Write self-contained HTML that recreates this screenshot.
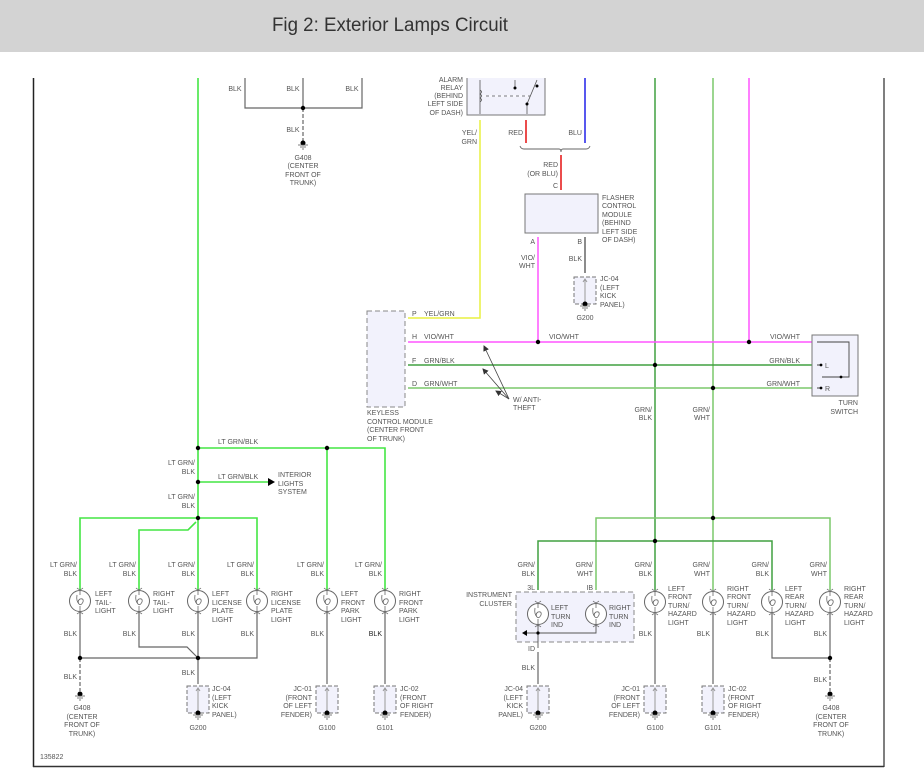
<!DOCTYPE html>
<html><head><meta charset="utf-8"><style>
html,body{margin:0;padding:0;background:#fff;width:924px;height:779px;overflow:hidden}
svg{display:block}
text{font-family:"Liberation Sans",sans-serif;font-size:7px;fill:#555}
.r{text-anchor:end}.m{text-anchor:middle}
</style></head><body>
<svg width="924" height="779" viewBox="0 0 924 779" xmlns="http://www.w3.org/2000/svg">
<defs>
<marker id="ah" markerWidth="6" markerHeight="6" refX="5" refY="3" orient="auto" markerUnits="userSpaceOnUse">
<path d="M0,0 L6,3 L0,6 Z" fill="#333"/>
</marker>
<g id="lamp">
<circle r="10.5" fill="#fff" stroke="#666" stroke-width="1"/>
<path d="M0,-10 L0,-6 M-3,-6 Q-4,0 -1,3 Q1,5 3,1 Q4,-3 0,-2 Q-3,0 -1,3 M0,5 L0,10" fill="none" stroke="#666" stroke-width="0.8"/>
<path d="M-3,-13 Q0,-10 3,-13 M-3,13 Q0,10 3,13" fill="none" stroke="#666" stroke-width="0.8"/>
</g>
<g id="gnd">
<circle r="2.5" fill="#000"/>
<path d="M-5,2 H5 M-3,4 H3 M-1,6 H1" stroke="#555" stroke-width="0.8"/>
</g>
<g id="jc">
<rect x="-11" y="0" width="22" height="27" fill="#f2f2fc" stroke="#777" stroke-dasharray="4,2"/>
<path d="M0,27 V2 M-2,5 L0,2 L2,5" fill="none" stroke="#999" stroke-width="1"/>
<use href="#gnd" y="27"/>
</g>
</defs>
<rect x="0" y="0" width="924" height="52" fill="#d3d3d3"/>
<text x="272" y="31" style="font-size:19px;fill:#333" textLength="236" lengthAdjust="spacingAndGlyphs">Fig 2: Exterior Lamps Circuit</text>
<line x1="33.5" y1="78" x2="33.5" y2="767" stroke="#222" stroke-width="1.5"/>
<line x1="884" y1="78" x2="884" y2="767" stroke="#555" stroke-width="1.5"/>
<line x1="33" y1="766.5" x2="884" y2="766.5" stroke="#333" stroke-width="1.5"/>
<text x="40" y="759">135822</text>

<g stroke="#666" stroke-width="1.2" fill="none">
<path d="M245,78 V108 H362 V78 M303,78 V108"/>
<path d="M303,108 V141" stroke-dasharray="4,2"/>
</g>
<circle cx="303" cy="108" r="2.2"/>
<use href="#gnd" x="303" y="143"/>
<text x="235" y="91" class="m">BLK</text><text x="293" y="91" class="m">BLK</text><text x="352" y="91" class="m">BLK</text>
<text x="293" y="132" class="m">BLK</text>
<text x="303" y="160" class="m">G408</text><text x="303" y="168" class="m">(CENTER</text><text x="303" y="177" class="m">FRONT OF</text><text x="303" y="185" class="m">TRUNK)</text>

<rect x="467" y="70" width="78" height="45" fill="#f2f2fc" stroke="#777"/>
<rect x="460" y="60" width="100" height="18" fill="#fff"/>
<path d="M480,80 V114 M480,90 q3,2 0,4 q3,2 0,4 q3,2 0,4 M483,96 H530 M515,80 V88 M537,80 L527,104 V114" stroke="#555" fill="none" stroke-width="0.8"/>
<path d="M483,96 H530" stroke="#fff" stroke-dasharray="3,3" stroke-width="1"/>
<circle cx="515" cy="88" r="1.5"/><circle cx="537" cy="86" r="1.5"/><circle cx="527" cy="104" r="1.5"/>
<text x="463" y="82" class="r">ALARM</text><text x="463" y="90" class="r">RELAY</text><text x="463" y="98" class="r">(BEHIND</text><text x="463" y="106" class="r">LEFT SIDE</text><text x="463" y="115" class="r">OF DASH)</text>
<path d="M480,120 V318 H408" stroke="#e8f040" stroke-width="1.5" fill="none"/>
<text x="477" y="135" class="r">YEL/</text><text x="477" y="144" class="r">GRN</text>
<line x1="526" y1="120" x2="526" y2="143" stroke="#e41010" stroke-width="1.5"/>
<line x1="585" y1="78" x2="585" y2="143" stroke="#2020e8" stroke-width="1.5"/>
<text x="523" y="135" class="r">RED</text><text x="582" y="135" class="r">BLU</text>
<path d="M520,146 q1,3 4,3 H559 q2,0 2,3 q0,-3 2,-3 H586 q3,0 4,-3" stroke="#666" fill="none" stroke-width="0.9"/>
<line x1="561" y1="155" x2="561" y2="190" stroke="#e41010" stroke-width="1.5"/>
<text x="558" y="167" class="r">RED</text><text x="558" y="176" class="r">(OR BLU)</text><text x="558" y="188" class="r">C</text>

<rect x="525" y="194" width="73" height="39" fill="#f2f2fc" stroke="#777"/>
<text x="602" y="200">FLASHER</text><text x="602" y="208">CONTROL</text><text x="602" y="217">MODULE</text><text x="602" y="225">(BEHIND</text><text x="602" y="234">LEFT SIDE</text><text x="602" y="242">OF DASH)</text>
<line x1="538" y1="237" x2="538" y2="342" stroke="#ff55ff" stroke-width="1.5"/>
<line x1="585" y1="237" x2="585" y2="273" stroke="#666" stroke-width="1.5"/>
<text x="535" y="244" class="r">A</text><text x="582" y="244" class="r">B</text>
<text x="535" y="260" class="r">VIO/</text><text x="535" y="268" class="r">WHT</text>
<text x="582" y="261" class="r">BLK</text>
<use href="#jc" x="585" y="277"/>
<text x="600" y="281">JC-04</text><text x="600" y="290">(LEFT</text><text x="600" y="298">KICK</text><text x="600" y="307">PANEL)</text>
<text x="585" y="320" class="m">G200</text>

<rect x="367" y="311" width="38" height="96" fill="#f2f2fc" stroke="#888" stroke-dasharray="5,3"/>
<text x="367" y="415">KEYLESS</text><text x="367" y="424">CONTROL MODULE</text><text x="367" y="432">(CENTER FRONT</text><text x="367" y="441">OF TRUNK)</text>
<text x="412" y="316">P</text><text x="424" y="316">YEL/GRN</text>
<text x="412" y="339">H</text><text x="424" y="339">VIO/WHT</text>
<text x="412" y="363">F</text><text x="424" y="363">GRN/BLK</text>
<text x="412" y="386">D</text><text x="424" y="386">GRN/WHT</text>
<line x1="655" y1="78" x2="655" y2="590" stroke="#40a040" stroke-width="1.5"/>
<line x1="713" y1="78" x2="713" y2="590" stroke="#7cc86c" stroke-width="1.5"/>
<line x1="749" y1="78" x2="749" y2="342" stroke="#ff55ff" stroke-width="1.5"/>
<line x1="408" y1="342" x2="812" y2="342" stroke="#ff55ff" stroke-width="1.5"/>
<line x1="408" y1="365" x2="812" y2="365" stroke="#40a040" stroke-width="1.5"/>
<line x1="408" y1="388" x2="812" y2="388" stroke="#7cc86c" stroke-width="1.5"/>
<circle cx="538" cy="342" r="2.2"/><circle cx="749" cy="342" r="2.2"/><circle cx="655" cy="365" r="2.2"/><circle cx="713" cy="388" r="2.2"/>
<text x="564" y="339" class="m">VIO/WHT</text>
<text x="800" y="339" class="r">VIO/WHT</text><text x="800" y="363" class="r">GRN/BLK</text><text x="800" y="386" class="r">GRN/WHT</text>
<g stroke="#444" stroke-width="0.8" fill="none">
<line x1="509" y1="399" x2="484" y2="346" marker-end="url(#ah)"/><line x1="509" y1="399" x2="483" y2="369" marker-end="url(#ah)"/><line x1="509" y1="399" x2="496" y2="391" marker-end="url(#ah)"/>
</g>
<text x="513" y="402">W/ ANTI-</text><text x="513" y="410">THEFT</text>
<text x="652" y="412" class="r">GRN/</text><text x="652" y="420" class="r">BLK</text>
<text x="710" y="412" class="r">GRN/</text><text x="710" y="420" class="r">WHT</text>
<rect x="812" y="335" width="46" height="61" fill="#f2f2fc" stroke="#777"/>
<path d="M817,342 H849 V377 H822 M817,365 H821 M817,388 H821" stroke="#444" fill="none" stroke-width="0.9"/>
<circle cx="821" cy="365" r="1.4"/><circle cx="821" cy="388" r="1.4"/><circle cx="841" cy="377" r="1.4"/>
<text x="825" y="368">L</text><text x="825" y="391">R</text>
<text x="858" y="405" class="r">TURN</text><text x="858" y="414" class="r">SWITCH</text>

<g stroke="#44e644" stroke-width="1.6" fill="none">
<path d="M198,78 V590"/>
<path d="M198,448 H385 V590 M327,448 V590"/>
<path d="M198,482 H268"/>
<path d="M198,518 H80 V590 M198,518 H257 V590"/>
<path d="M196,522 L188,530 H139 V590"/>
</g>
<path d="M268,478 L275,482 L268,486 Z" fill="#000"/>
<circle cx="198" cy="448" r="2.2"/><circle cx="327" cy="448" r="2.2"/><circle cx="198" cy="482" r="2.2"/><circle cx="198" cy="518" r="2.2"/>
<text x="218" y="444">LT GRN/BLK</text><text x="218" y="479">LT GRN/BLK</text>
<text x="278" y="477">INTERIOR</text><text x="278" y="486">LIGHTS</text><text x="278" y="494">SYSTEM</text>
<text x="195" y="465" class="r">LT GRN/</text><text x="195" y="474" class="r">BLK</text>
<text x="195" y="499" class="r">LT GRN/</text><text x="195" y="508" class="r">BLK</text>

<g stroke="#666" stroke-width="1.2" fill="none">
<path d="M80,612 V658 H257 V612 M198,612 V684 M139,612 V647 H187 L198,658"/>
<path d="M80,658 V691" stroke-dasharray="4,2"/>
<path d="M327,612 V684 M385,612 V684"/>
</g>
<circle cx="80" cy="658" r="2.2"/><circle cx="198" cy="658" r="2.2"/>
<use href="#lamp" x="80" y="601"/><use href="#lamp" x="139" y="601"/><use href="#lamp" x="198" y="601"/><use href="#lamp" x="257" y="601"/><use href="#lamp" x="327" y="601"/><use href="#lamp" x="385" y="601"/>
<text x="77" y="567" class="r">LT GRN/</text><text x="77" y="576" class="r">BLK</text>
<text x="136" y="567" class="r">LT GRN/</text><text x="136" y="576" class="r">BLK</text>
<text x="195" y="567" class="r">LT GRN/</text><text x="195" y="576" class="r">BLK</text>
<text x="254" y="567" class="r">LT GRN/</text><text x="254" y="576" class="r">BLK</text>
<text x="324" y="567" class="r">LT GRN/</text><text x="324" y="576" class="r">BLK</text>
<text x="382" y="567" class="r">LT GRN/</text><text x="382" y="576" class="r">BLK</text>
<text x="95" y="596">LEFT</text><text x="95" y="605">TAIL-</text><text x="95" y="613">LIGHT</text>
<text x="153" y="596">RIGHT</text><text x="153" y="605">TAIL-</text><text x="153" y="613">LIGHT</text>
<text x="212" y="596">LEFT</text><text x="212" y="605">LICENSE</text><text x="212" y="613">PLATE</text><text x="212" y="622">LIGHT</text>
<text x="271" y="596">RIGHT</text><text x="271" y="605">LICENSE</text><text x="271" y="613">PLATE</text><text x="271" y="622">LIGHT</text>
<text x="341" y="596">LEFT</text><text x="341" y="605">FRONT</text><text x="341" y="613">PARK</text><text x="341" y="622">LIGHT</text>
<text x="399" y="596">RIGHT</text><text x="399" y="605">FRONT</text><text x="399" y="613">PARK</text><text x="399" y="622">LIGHT</text>
<text x="77" y="636" class="r">BLK</text><text x="136" y="636" class="r">BLK</text><text x="195" y="636" class="r">BLK</text><text x="254" y="636" class="r">BLK</text><text x="324" y="636" class="r">BLK</text><text x="382" y="636" class="r" style="fill:#222">BLK</text>
<text x="77" y="679" class="r">BLK</text><text x="195" y="675" class="r">BLK</text>
<use href="#gnd" x="80" y="694"/>
<text x="82" y="710" class="m">G408</text><text x="82" y="719" class="m">(CENTER</text><text x="82" y="727" class="m">FRONT OF</text><text x="82" y="736" class="m">TRUNK)</text>
<use href="#jc" x="198" y="686"/><use href="#jc" x="327" y="686"/><use href="#jc" x="385" y="686"/>
<text x="212" y="691">JC-04</text><text x="212" y="700">(LEFT</text><text x="212" y="708">KICK</text><text x="212" y="717">PANEL)</text>
<text x="312" y="691" class="r">JC-01</text><text x="312" y="700" class="r">(FRONT</text><text x="312" y="708" class="r">OF LEFT</text><text x="312" y="717" class="r">FENDER)</text>
<text x="400" y="691">JC-02</text><text x="400" y="700">(FRONT</text><text x="400" y="708">OF RIGHT</text><text x="400" y="717">FENDER)</text>
<text x="198" y="730" class="m">G200</text><text x="327" y="730" class="m">G100</text><text x="385" y="730" class="m">G101</text>

<path d="M596,590 V518 H830 V590" stroke="#7cc86c" stroke-width="1.5" fill="none"/>
<path d="M538,590 V541 H772 V590" stroke="#40a040" stroke-width="1.5" fill="none"/>
<circle cx="713" cy="518" r="2.2"/><circle cx="655" cy="541" r="2.2"/>
<rect x="516" y="592" width="118" height="50" fill="#f2f2fc" stroke="#888" stroke-dasharray="5,3"/>
<use href="#lamp" x="538" y="614"/><use href="#lamp" x="596" y="614"/>
<path d="M538,625 V648 M596,625 V633 H525" stroke="#555" fill="none" stroke-width="0.9"/>
<path d="M527,630 L522,633 L527,636 Z" fill="#000"/><circle cx="538" cy="633" r="1.6"/>
<text x="512" y="597" class="r">INSTRUMENT</text><text x="512" y="606" class="r">CLUSTER</text>
<text x="535" y="590" class="r">3L</text><text x="593" y="590" class="r">IB</text><text x="535" y="651" class="r">ID</text>
<text x="551" y="610">LEFT</text><text x="551" y="619">TURN</text><text x="551" y="627">IND</text>
<text x="609" y="610">RIGHT</text><text x="609" y="619">TURN</text><text x="609" y="627">IND</text>
<use href="#lamp" x="655" y="602"/><use href="#lamp" x="713" y="602"/><use href="#lamp" x="772" y="602"/><use href="#lamp" x="830" y="602"/>
<g stroke="#666" stroke-width="1.2" fill="none">
<path d="M538,652 V684 M655,614 V684 M713,614 V684 M772,614 V658 H830 V614"/>
<path d="M830,658 V691" stroke-dasharray="4,2"/>
</g>
<circle cx="830" cy="658" r="2.2"/>
<text x="535" y="567" class="r">GRN/</text><text x="535" y="576" class="r">BLK</text>
<text x="593" y="567" class="r">GRN/</text><text x="593" y="576" class="r">WHT</text>
<text x="652" y="567" class="r">GRN/</text><text x="652" y="576" class="r">BLK</text>
<text x="710" y="567" class="r">GRN/</text><text x="710" y="576" class="r">WHT</text>
<text x="769" y="567" class="r">GRN/</text><text x="769" y="576" class="r">BLK</text>
<text x="827" y="567" class="r">GRN/</text><text x="827" y="576" class="r">WHT</text>
<text x="668" y="591">LEFT</text><text x="668" y="599">FRONT</text><text x="668" y="608">TURN/</text><text x="668" y="616">HAZARD</text><text x="668" y="625">LIGHT</text>
<text x="727" y="591">RIGHT</text><text x="727" y="599">FRONT</text><text x="727" y="608">TURN/</text><text x="727" y="616">HAZARD</text><text x="727" y="625">LIGHT</text>
<text x="785" y="591">LEFT</text><text x="785" y="599">REAR</text><text x="785" y="608">TURN/</text><text x="785" y="616">HAZARD</text><text x="785" y="625">LIGHT</text>
<text x="844" y="591">RIGHT</text><text x="844" y="599">REAR</text><text x="844" y="608">TURN/</text><text x="844" y="616">HAZARD</text><text x="844" y="625">LIGHT</text>
<text x="535" y="670" class="r">BLK</text><text x="652" y="636" class="r">BLK</text><text x="710" y="636" class="r">BLK</text><text x="769" y="636" class="r">BLK</text><text x="827" y="636" class="r">BLK</text><text x="827" y="682" class="r">BLK</text>
<use href="#jc" x="538" y="686"/><use href="#jc" x="655" y="686"/><use href="#jc" x="713" y="686"/>
<use href="#gnd" x="830" y="694"/>
<text x="523" y="691" class="r">JC-04</text><text x="523" y="700" class="r">(LEFT</text><text x="523" y="708" class="r">KICK</text><text x="523" y="717" class="r">PANEL)</text>
<text x="640" y="691" class="r">JC-01</text><text x="640" y="700" class="r">(FRONT</text><text x="640" y="708" class="r">OF LEFT</text><text x="640" y="717" class="r">FENDER)</text>
<text x="728" y="691">JC-02</text><text x="728" y="700">(FRONT</text><text x="728" y="708">OF RIGHT</text><text x="728" y="717">FENDER)</text>
<text x="538" y="730" class="m">G200</text><text x="655" y="730" class="m">G100</text><text x="713" y="730" class="m">G101</text>
<text x="831" y="710" class="m">G408</text><text x="831" y="719" class="m">(CENTER</text><text x="831" y="727" class="m">FRONT OF</text><text x="831" y="736" class="m">TRUNK)</text>
</svg>
</body></html>
